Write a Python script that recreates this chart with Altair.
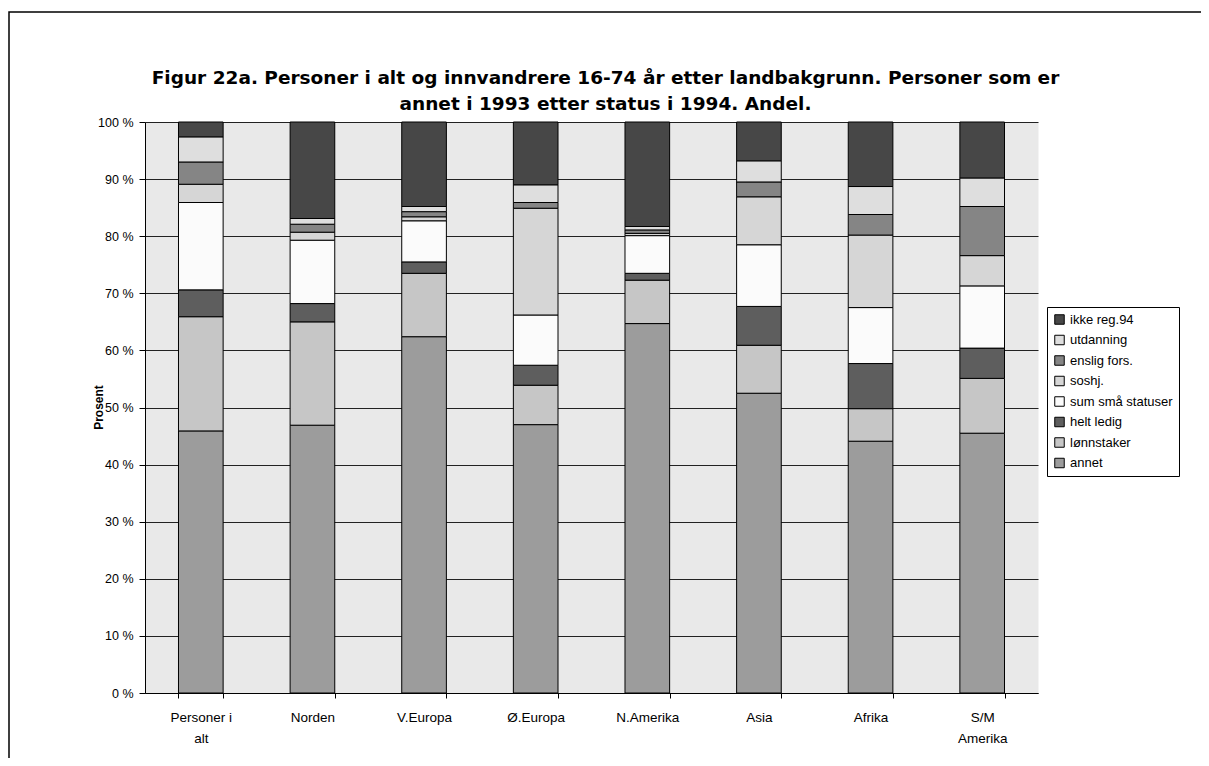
import altair as alt
import pandas as pd

categories = ["Personer i alt", "Norden", "V.Europa", "Ø.Europa", "N.Amerika", "Asia", "Afrika", "S/M Amerika"]

annet = [45.9, 46.9, 62.4, 47.0, 64.7, 52.5, 44.1, 45.5]
lonnstaker = [20.0, 18.1, 11.1, 6.9, 7.6, 8.4, 5.7, 9.6]
helt_ledig = [4.7, 3.2, 2.0, 3.5, 1.2, 6.8, 7.9, 5.3]
sum_sma = [15.3, 11.1, 7.2, 8.8, 6.6, 10.8, 9.8, 10.9]
soshj = [3.2, 1.4, 0.7, 18.7, 0.4, 8.4, 12.7, 5.3]
enslig = [3.9, 1.4, 0.9, 1.0, 0.6, 2.6, 3.6, 8.6]
utdanning = [4.4, 1.0, 0.9, 3.1, 0.6, 3.7, 4.9, 5.0]
ikke_reg = [2.6, 16.9, 14.8, 11.0, 18.3, 6.8, 11.3, 9.8]

series_names = ["annet", "lønnstaker", "helt ledig", "sum små statuser", "soshj.", "enslig fors.", "utdanning", "ikke reg.94"]
series_values = [annet, lonnstaker, helt_ledig, sum_sma, soshj, enslig, utdanning, ikke_reg]
series_colors = ["#9c9c9c", "#c6c6c6", "#5e5e5e", "#fbfbfb", "#d6d6d6", "#858585", "#dedede", "#474747"]

title_lines = ["Figur 22a. Personer i alt og innvandrere 16-74 år etter landbakgrunn. Personer som er",
               "annet i 1993 etter status i 1994. Andel."]

rows = []
for si, (name, vals) in enumerate(zip(series_names, series_values)):
    for cat, v in zip(categories, vals):
        rows.append({"kategori": cat, "status": name, "andel": v, "idx": si})
df = pd.DataFrame(rows)

legend_order = list(reversed(series_names))
legend_colors = list(reversed(series_colors))

FONT = "Liberation Sans"

x_label_expr = ("datum.label == 'Personer i alt' ? ['Personer i', 'alt'] : "
                "datum.label == 'S/M Amerika' ? ['S/M', 'Amerika'] : datum.label")

bars = alt.Chart(df).mark_bar(stroke="black", strokeWidth=1).encode(
    x=alt.X("kategori:N", sort=categories,
            scale=alt.Scale(paddingInner=0.6, paddingOuter=0.3),
            axis=alt.Axis(title=None, labelAngle=0, labelExpr=x_label_expr,
                          labelFontSize=13.5, labelPadding=12, labelLineHeight=21,
                          tickBand="extent", tickSize=5, grid=False,
                          domainColor="black", tickColor="black", labelColor="black")),
    y=alt.Y("andel:Q", stack="zero",
            scale=alt.Scale(domain=[0, 100], nice=False),
            axis=alt.Axis(title="Prosent", values=list(range(0, 101, 10)),
                          labelExpr="datum.value + ' %'", labelFontSize=12.5,
                          tickSize=6, labelPadding=6,
                          titleX=-40, titleY=285,
                          titleFontSize=12, titleFontWeight="bold", titleColor="black",
                          grid=True, gridColor="#222222", gridWidth=1,
                          domainColor="black", tickColor="black", labelColor="black")),
    color=alt.Color("status:N",
                    scale=alt.Scale(domain=legend_order, range=legend_colors),
                    legend=alt.Legend(title=None, orient="none", legendX=902, legendY=185,
                                      symbolType="square", symbolSize=90,
                                      symbolStrokeColor="black", symbolStrokeWidth=1,
                                      labelFontSize=13, rowPadding=5.5, padding=6,
                                      strokeColor="black", labelColor="black")),
    order=alt.Order("idx:Q", sort="ascending"),
)

title_df = pd.DataFrame({"t": [title_lines]})
title = alt.Chart(title_df).mark_text(
    font="DejaVu Sans", fontSize=18.5, fontWeight="bold", lineHeight=26,
    align="center", baseline="middle", color="black"
).encode(text="t", x=alt.value(460.5), y=alt.value(-44))

frame_df = pd.DataFrame({"f": [0]})
frame = alt.Chart(frame_df).mark_rect(fill="transparent", stroke="black", strokeWidth=1.5).encode(
    x=alt.value(-136), x2=alt.value(1300), y=alt.value(-110), y2=alt.value(900)
)

chart = alt.layer(bars, title, frame).properties(
    width=893,
    height=571,
    autosize=alt.AutoSizeParams(type="none"),
    padding={"left": 137, "top": 114, "right": 163, "bottom": 65},
).configure(font=FONT).configure_view(
    fill="#e9e9e9", stroke="transparent"
).configure_axis(labelFont=FONT, titleFont=FONT).configure_legend(labelFont=FONT)

chart.save("out.html", embed_options={"renderer": "svg", "actions": False})
